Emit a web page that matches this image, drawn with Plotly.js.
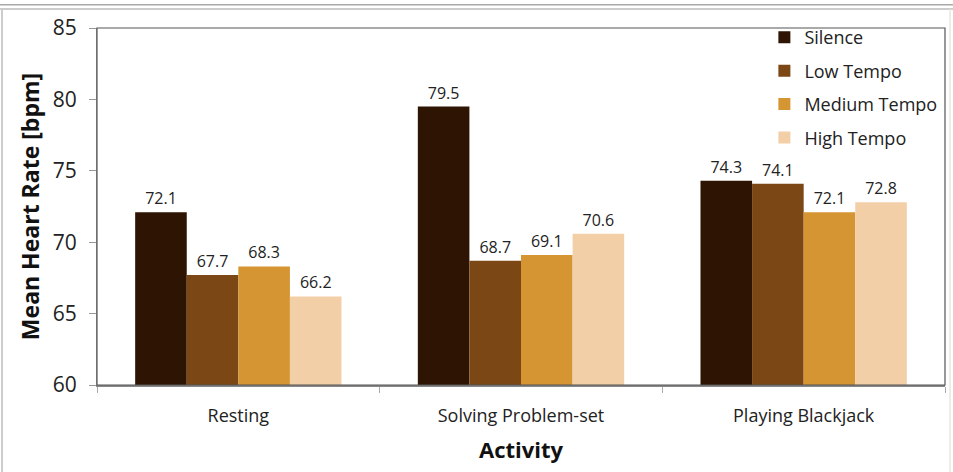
<!DOCTYPE html>
<html>
<head>
<meta charset="utf-8">
<script src="https://cdn.plot.ly/plotly-3.0.1.min.js"></script>
<style>html,body{margin:0;padding:0;background:#fff;}#chart{width:953px;height:472px;}</style>
</head>
<body>
<div id="chart"></div>
<script>
const categories = ["Resting", "Solving Problem-set", "Playing Blackjack"];
const seriesNames = ["Silence", "Low Tempo", "Medium Tempo", "High Tempo"];
const silence = [72.1, 79.5, 74.3];
const lowTempo = [67.7, 68.7, 74.1];
const mediumTempo = [68.3, 69.1, 72.1];
const highTempo = [66.2, 70.6, 72.8];
const colors = ["#2e1503", "#7b4714", "#d49532", "#f3cfa8"];
const yTicks = [60, 65, 70, 75, 80, 85];

const FONT = "Open Sans, sans-serif";
const values = [silence, lowTempo, mediumTempo, highTempo];
const traces = values.map((v, i) => ({
  type: "bar",
  name: seriesNames[i],
  x: categories,
  y: v.map(d => d - 60),
  base: 60,
  text: v.map(d => d.toFixed(1)),
  textposition: "outside",
  textfont: {family: FONT, size: 16, color: "#222"},
  cliponaxis: false,
  marker: {color: colors[i], line: {width: 0}},
  legendgroup: "g" + i,
  hoverinfo: "skip"
}));

const layout = {
  width: 953, height: 472,
  margin: {l: 97, r: 8, t: 28, b: 87},
  paper_bgcolor: "#fff", plot_bgcolor: "#fff",
  barmode: "group",
  bargap: 0.27,
  bargroupgap: 0,
  showlegend: true,
  legend: {
    x: 0.787, y: 1.025, xanchor: "left", yanchor: "top",
    bgcolor: "rgba(0,0,0,0)",
    font: {family: FONT, size: 18, color: "#222"},
    traceorder: "grouped", tracegroupgap: 7,
    itemwidth: 30
  },
  xaxis: {
    type: "category",
    showline: true, linecolor: "#888", linewidth: 1.5,
    mirror: false,
    ticks: "outside", ticklen: 6, tickcolor: "#aaa",
    tickson: "boundaries",
    ticklabelstandoff: 14,
    tickfont: {family: FONT, size: 18, color: "#222"},
    title: {text: "<b>Activity</b>", font: {family: FONT, size: 22, color: "#111"}, standoff: 16},
    showgrid: false, zeroline: false, fixedrange: true
  },
  yaxis: {
    range: [60, 85],
    tickvals: yTicks,
    showline: true, linecolor: "#999", linewidth: 1,
    ticks: "outside", ticklen: 7, tickcolor: "#999",
    ticklabelstandoff: 8,
    tickfont: {family: FONT, size: 21, color: "#222"},
    title: {text: "<b>Mean Heart Rate [bpm]</b>", font: {family: FONT, size: 23, color: "#111"}, standoff: 6},
    showgrid: false, zeroline: false, fixedrange: true
  },
  shapes: [
    {type: "rect", xref: "paper", yref: "paper", x0: 0, x1: 1, y0: 0, y1: 1, line: {color: "#555", width: 1.2}, layer: "above"},
    {type: "line", xref: "paper", yref: "paper", x0: -0.2, x1: 1.02, y0: 1.065, y1: 1.065, line: {color: "#aaa", width: 1.5}},
    {type: "line", xref: "paper", yref: "paper", x0: -0.2, x1: 1.02, y0: 1.053, y1: 1.053, line: {color: "#ccc", width: 2}},
    {type: "line", xref: "paper", yref: "paper", x0: -0.112, x1: -0.112, y0: -0.3, y1: 1.053, line: {color: "#ccc", width: 2}},
    {type: "line", xref: "paper", yref: "paper", x0: 1.006, x1: 1.006, y0: -0.3, y1: 1.053, line: {color: "#e6e6e6", width: 1.5}}
  ]
};

Plotly.newPlot("chart", traces, layout, {displayModeBar: false, staticPlot: true});
</script>
</body>
</html>
